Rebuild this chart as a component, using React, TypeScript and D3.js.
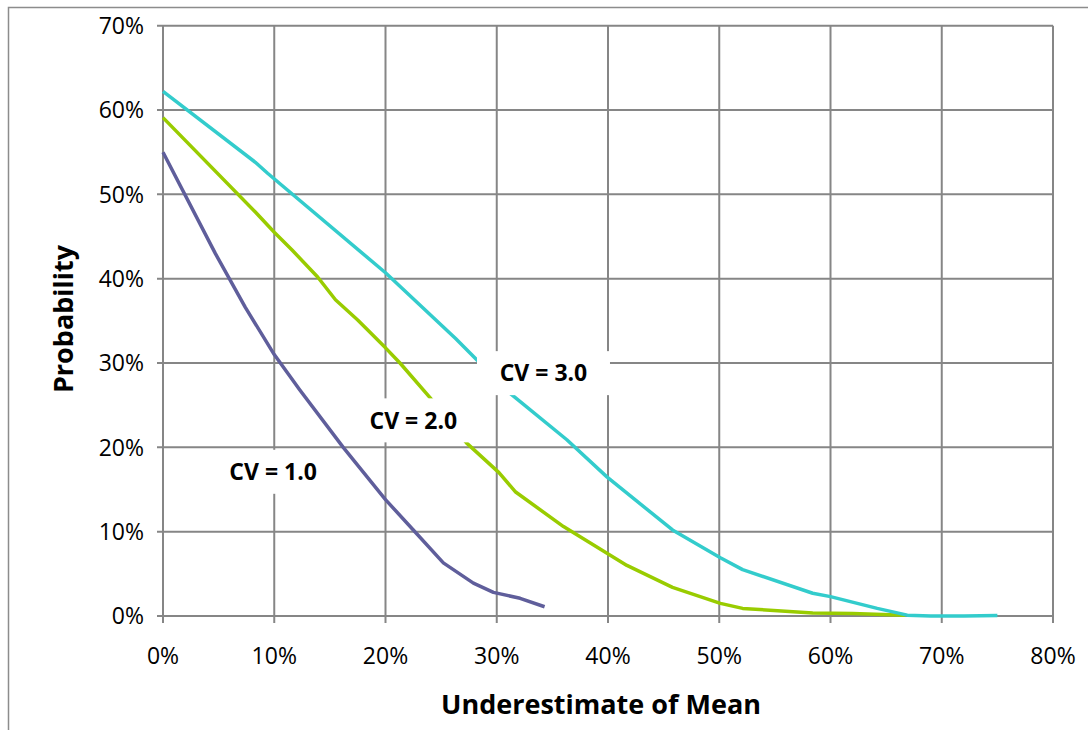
import React from 'react';
import * as d3 from 'd3';

// underestimate of mean (%) and probability (%)
const cv1Under = [0, 4.7, 7.4, 10, 12.3, 16.2, 20, 22.5, 25.2, 27.9, 29.7, 32.1, 34.3];
const cv1Prob = [55, 43, 36.6, 31, 26.8, 20, 13.8, 10.2, 6.3, 3.9, 2.8, 2.1, 1.1];

const cv2Under = [0, 8.3, 10, 11.6, 13.9, 15.5, 17.5, 20, 21.3, 24, 27.3, 30.2, 31.7, 36, 41.7, 45.8, 50.1, 52.1, 58.4, 62, 66.7];
const cv2Prob = [59.1, 47.9, 45.5, 43.4, 40.2, 37.5, 35.1, 31.8, 30, 25.9, 20.5, 17, 14.7, 10.6, 6, 3.4, 1.5, 0.9, 0.35, 0.3, 0.1];

const cv3Under = [0, 8.3, 9.4, 20, 26.3, 28.2, 31.2, 36.3, 39.9, 45.8, 50.1, 52.1, 58.4, 60, 64.2, 66.9, 69, 72, 75];
const cv3Prob = [62.2, 53.8, 52.5, 40.7, 32.9, 30.4, 26.4, 20.9, 16.5, 10.2, 6.9, 5.5, 2.7, 2.3, 0.9, 0.1, 0, 0, 0.05];

const seriesNames = ['CV = 1.0', 'CV = 2.0', 'CV = 3.0'];
const seriesColors = ['#5f5e9b', '#99cc00', '#33cccc'];
// label anchors in data units
const labelUnder = [9.9, 22.5, 34.2];
const labelProb = [17.1, 23.2, 28.8];

const xTicks = [0, 10, 20, 30, 40, 50, 60, 70, 80];
const yTicks = [0, 10, 20, 30, 40, 50, 60, 70];

const W = 1088;
const H = 730;
const left = 163;
const right = 1053;
const top = 25.7;
const bottom = 616;
const gridColor = '#868686';
const font = '"Open Sans", sans-serif';

const App = () => {
  const x = d3.scaleLinear().domain([0, 80]).range([left, right]);
  const y = d3.scaleLinear().domain([0, 70]).range([bottom, top]);

  const line = d3.line<[number, number]>()
    .x(d => x(d[0]))
    .y(d => y(d[1]));

  const series = [
    d3.zip(cv1Under, cv1Prob) as [number, number][],
    d3.zip(cv2Under, cv2Prob) as [number, number][],
    d3.zip(cv3Under, cv3Prob) as [number, number][],
  ];

  const boxW = 133;
  const boxH = 44;

  return (
    <svg width={W} height={H} style={{ position: 'absolute', left: 0, top: 0, background: '#fff' }}>
      {/* chart area border */}
      <path d={`M8.5,${H} V7.5 H${W}`} fill="none" stroke="#8c8c8c" strokeWidth={1.5} />

      {/* grid */}
      {yTicks.map(t => (
        <line key={'gy' + t} x1={left - 6} x2={right} y1={y(t)} y2={y(t)} stroke={gridColor} strokeWidth={2} />
      ))}
      {xTicks.map(t => (
        <line key={'gx' + t} x1={x(t)} x2={x(t)} y1={top} y2={bottom + 7} stroke={gridColor} strokeWidth={2} />
      ))}

      {/* lines */}
      {series.map((s, i) => (
        <path key={seriesNames[i]} d={line(s) ?? ''} fill="none" stroke={seriesColors[i]} strokeWidth={3.5} strokeLinejoin="round" />
      ))}

      {/* labels */}
      {seriesNames.map((n, i) => (
        <g key={'lab' + n} transform={`translate(${x(labelUnder[i])},${y(labelProb[i])})`}>
          <rect x={-boxW / 2} y={-boxH / 2} width={boxW} height={boxH} fill="#fff" />
          <text textAnchor="middle" dy="0.36em" fontFamily={font} fontWeight="bold" fontSize={23} fill="#000">{n}</text>
        </g>
      ))}

      {/* tick labels */}
      {yTicks.map(t => (
        <text key={'ty' + t} x={144} y={y(t)} dy="0.36em" textAnchor="end" fontFamily={font} fontSize={23} fill="#000">{t}%</text>
      ))}
      {xTicks.map(t => (
        <text key={'tx' + t} x={x(t)} y={664} textAnchor="middle" fontFamily={font} fontSize={23} fill="#000">{t}%</text>
      ))}

      {/* axis titles */}
      <text x={601} y={714} textAnchor="middle" fontFamily={font} fontWeight="bold" fontSize={27} fill="#000">Underestimate of Mean</text>
      <text transform={`translate(73,319) rotate(-90)`} textAnchor="middle" fontFamily={font} fontWeight="bold" fontSize={27} fill="#000">Probability</text>
    </svg>
  );
};

export default App;
